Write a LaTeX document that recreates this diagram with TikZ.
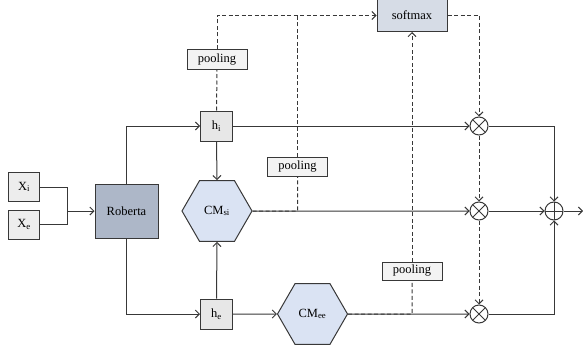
\documentclass[tikz,border=0pt]{standalone}
\usepackage{fontspec}
\setmainfont{Liberation Serif}
\usetikzlibrary{arrows.meta,shapes.geometric}
\definecolor{lc}{HTML}{383838}
\definecolor{xfill}{HTML}{EDEDED}
\definecolor{robfill}{HTML}{ADB7C8}
\definecolor{hfill}{HTML}{E7E7E7}
\definecolor{softfill}{HTML}{D6DCE6}
\definecolor{hexfill}{HTML}{DAE3F3}
\definecolor{poolfill}{HTML}{F3F3F3}
\tikzset{
  every node/.style={font=\fontsize{12.5}{14}\selectfont, inner sep=0pt},
  ln/.style={draw=lc, line width=1pt},
  arr/.style={ln, -{Straight Barb[length=4pt,width=8pt]}},
  dsh/.style={draw=lc, line width=1pt, dash pattern=on 4pt off 2.5pt},
  darr/.style={dsh, -{Straight Barb[length=4pt,width=8pt]}},
  xbox/.style={ln, fill=xfill, minimum width=31pt, minimum height=29pt},
  hbox/.style={ln, fill=hfill, minimum width=32pt, minimum height=30pt},
  poolbox/.style={ln, fill=poolfill, minimum width=60pt, minimum height=19pt},
  hexa/.style={ln, fill=hexfill, shape=regular polygon, regular polygon sides=6, minimum size=70pt},
  opcirc/.style={ln, circle, minimum size=18pt},
  xmark/.style={opcirc, path picture={\draw[lc, line width=1pt] (path picture bounding box.north west) -- (path picture bounding box.south east) (path picture bounding box.south west) -- (path picture bounding box.north east);}},
  pmark/.style={opcirc, path picture={\draw[lc, line width=1pt] (path picture bounding box.north) -- (path picture bounding box.south) (path picture bounding box.west) -- (path picture bounding box.east);}},
}
\begin{document}
\begin{tikzpicture}[x=1pt, y=-1pt]
\useasboundingbox (0,0) rectangle (583,353);
% nodes
\node[xbox] (xi) at (24,187) {X\textsubscript{i}};
\node[xbox] (xe) at (24,224.5) {X\textsubscript{e}};
\node[ln, fill=robfill, minimum width=63pt, minimum height=54pt] (rob) at (126.5,211) {Roberta};
\node[hbox] (hi) at (216.5,126) {h\textsubscript{i}};
\node[hbox] (he) at (216.5,314) {h\textsubscript{e}};
\node[hexa] (cmsi) at (217,211) {CM\textsubscript{si}};
\node[hexa] (cmee) at (312.5,314) {CM\textsubscript{ee}};
\node[ln, fill=softfill, minimum width=70pt, minimum height=32pt] (soft) at (412,15.5) {softmax};
\node[poolbox] (p1) at (217,59.5) {pooling};
\node[poolbox] (p2) at (297.5,166.5) {pooling};
\node[poolbox, minimum height=18pt] (p3) at (412,271) {pooling};
\node[xmark] (o1) at (479,126) {};
\node[xmark] (o2) at (479,211) {};
\node[xmark] (o3) at (479,314) {};
\node[pmark] (op) at (554,211) {};
\coordinate (j) at (67,211);
\coordinate (out) at (583,211);
\coordinate (d2) at (297.5,15);
\coordinate (d2b) at (297.5,211);
\coordinate (d3b) at (412,314);
% input joins
\draw[ln] (xi.east) -| (j);
\draw[ln] (xe.east) -| (j);
\draw[arr] (j) -- (rob.west);
\draw[arr] (rob.north) |- (hi.west);
\draw[arr] (rob.south) |- (he.west);
\draw[arr] (hi.south) -- (cmsi.north);
\draw[arr] (he.north) -- (cmsi.south);
\draw[arr] (he.east) -- (cmee.west);
\draw[arr] (hi.east) -- (o1.west);
\draw[arr] (cmsi.east) -- (o2.west);
\draw[arr] (cmee.east) -- (o3.west);
\draw[arr] (o1.east) -| (op.north);
\draw[arr] (o3.east) -| (op.south);
\draw[arr] (o2.east) -- (op.west);
\draw[arr] (op.east) -- (out);
% dashed pooling paths
\draw[dsh] (hi.north) -- (p1.south);
\draw[darr] (p1.north) |- (soft.west);
\draw[dsh] (cmsi.east) -- (d2b) -- (p2.south);
\draw[dsh] (p2.north) -- (d2);
\draw[dsh] (cmee.east) -- (d3b) -- (p3.south);
\draw[darr] (p3.north) -- (soft.south);
\draw[darr] (soft.east) -| (o1.north);
\draw[darr] (o1.south) -- (o2.north);
\draw[darr] (o2.south) -- (o3.north);
\end{tikzpicture}
\end{document}
